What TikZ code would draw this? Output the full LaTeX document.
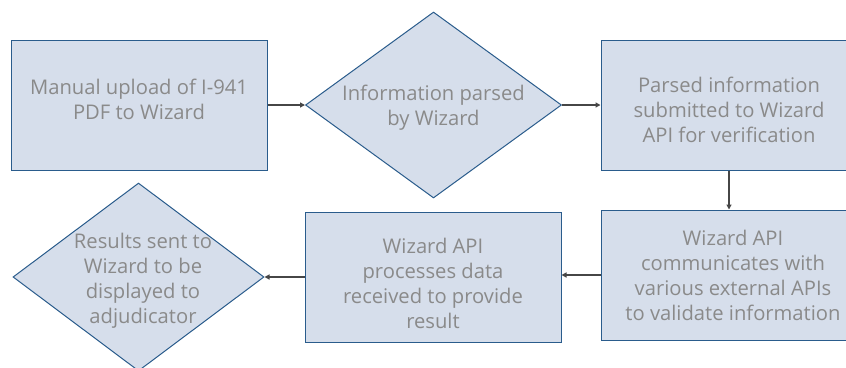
\documentclass[tikz,border=0pt]{standalone}
\usepackage{fontspec}
\setmainfont{Open Sans}
\usetikzlibrary{shapes.geometric,arrows.meta}
\definecolor{boxfill}{RGB}{214,222,235}
\definecolor{boxline}{RGB}{42,92,140}
\definecolor{txtgray}{RGB}{138,138,138}
\definecolor{arrowgray}{RGB}{70,70,70}
\tikzset{
  boxnode/.style={draw=boxline, fill=boxfill, line width=1pt, inner sep=0pt, rectangle},
  dianode/.style={draw=boxline, fill=boxfill, line width=1pt, inner sep=0pt, diamond},
  txt/.style={text=txtgray, font=\fontsize{20.2}{25}\selectfont, align=center, inner sep=0pt},
  conn/.style={draw=arrowgray, line width=1.2pt, -{Triangle[length=5pt,width=5pt]}}
}
\begin{document}
\begin{tikzpicture}[x=1pt,y=-1pt]
\useasboundingbox (0,0) rectangle (846,367);
\fill[white] (0,0) rectangle (846,367);
% shapes
\node[boxnode, minimum width=256pt, minimum height=130pt] (b1) at (139,105) {};
\node[dianode, minimum width=256pt, minimum height=186pt] (d1) at (433.5,105) {};
\node[boxnode, minimum width=256pt, minimum height=130pt] (b3) at (729,105) {};
\node[boxnode, minimum width=256pt, minimum height=130pt] (b4) at (729,275) {};
\node[boxnode, minimum width=256pt, minimum height=130pt] (b5) at (433,277) {};
\node[dianode, minimum width=251pt, minimum height=188pt] (d2) at (138.5,277) {};
% texts
\node[txt] (t1) at (139,99.5) {Manual upload of I-941\\PDF to Wizard};
\node[txt] (t2) at (433.5,108) {Information parsed\\by Wizard};
\node[txt] (t3) at (729,110) {Parsed information\\submitted to Wizard\\API for verification};
\node[txt] (t4) at (733,275.5) {Wizard API\\communicates with\\various external APIs\\to validate information};
\node[txt] (t5) at (433,283) {Wizard API\\processes data\\received to provide\\result};
\node[txt] (t6) at (143,280.5) {Results sent to\\Wizard to be\\displayed to\\adjudicator};
% connectors
\draw[conn] (b1.east) -- (d1.west);
\draw[conn] (d1.east) -- (b3.west);
\draw[conn] (b3.south) -- (b4.north);
\draw[conn] (b4.west) -- (b4.west -| b5.east);
\draw[conn] (b5.west) -- (d2.east);
\end{tikzpicture}
\end{document}
